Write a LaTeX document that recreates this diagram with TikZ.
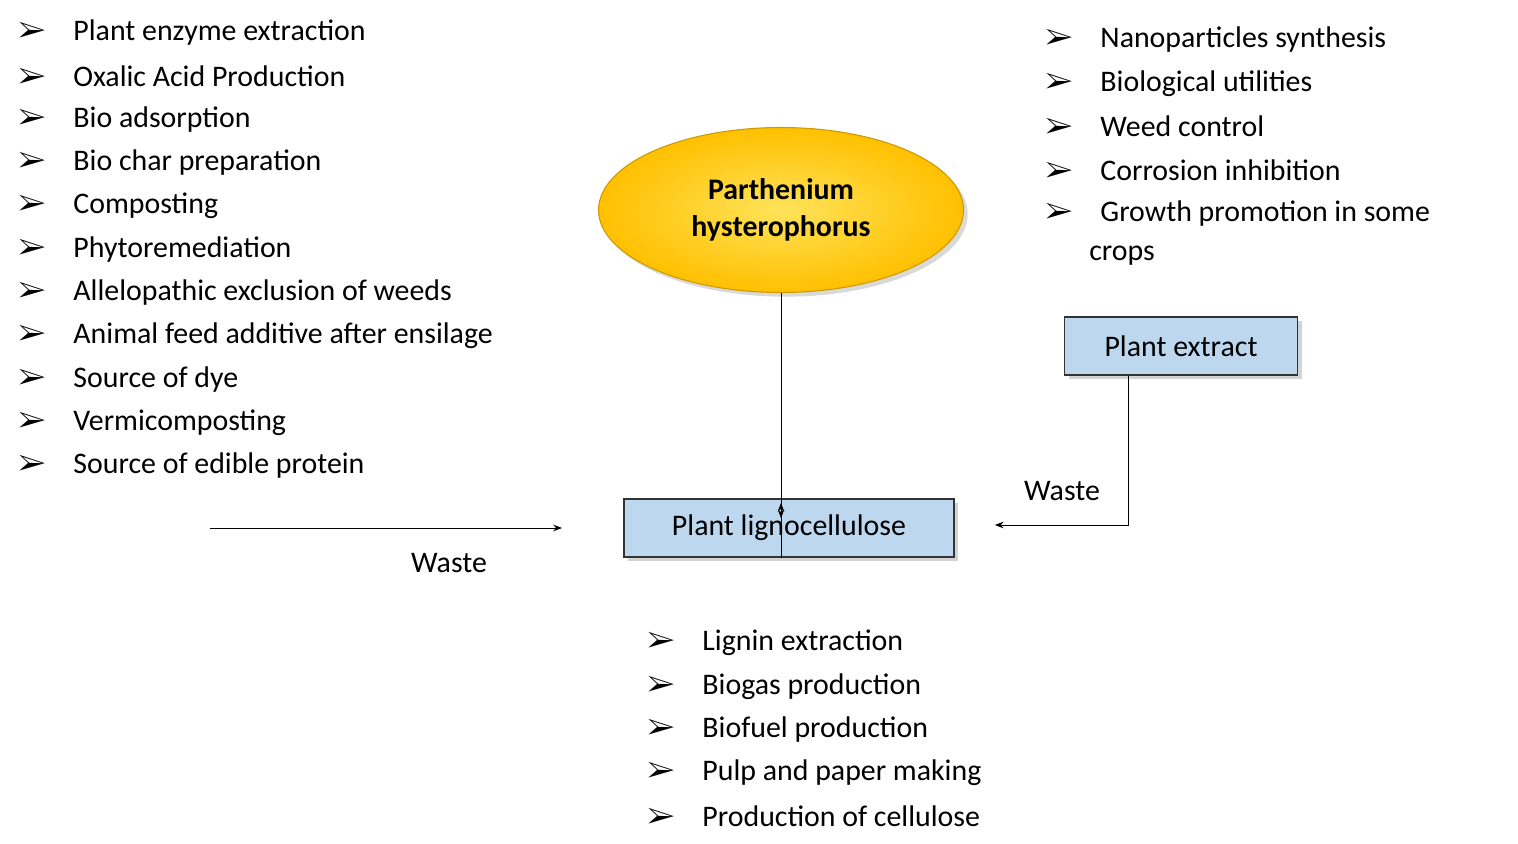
\documentclass[tikz,border=0pt]{standalone}
\usepackage{fontspec}
\setmainfont{Carlito}
\usepackage{pifont}
\usetikzlibrary{positioning, shadows, arrows.meta, shapes.geometric}
\definecolor{gold}{HTML}{FFC000}
\definecolor{goldlight}{HTML}{FFE35A}
\definecolor{boxblue}{HTML}{BDD7EE}
\tikzset{
  item/.style={anchor=west, inner sep=0pt, font=\fontsize{17}{20}\selectfont},
  box/.style={draw=black!80, line width=1pt, fill=boxblue, minimum height=1.16cm,
    font=\fontsize{17}{20}\selectfont, drop shadow={opacity=0.35}},
  conn/.style={-{Stealth[length=5pt]}, line width=0.5pt}
}
\newcommand{\mk}{\ding{226}}
\begin{document}
\begin{tikzpicture}[x=0.02cm, y=-0.02cm]
	\useasboundingbox (0,0) rectangle (1518,844);
	% left list
	\foreach \t [count=\i from 0] in {Plant enzyme extraction, Oxalic Acid Production, Bio adsorption, Bio char preparation, Composting, Phytoremediation, Allelopathic exclusion of weeds, Animal feed additive after ensilage, Source of dye, Vermicomposting, Source of edible protein}
	\node[item] (l\i) at (18,33+\i*43.3) {\mk\hspace{0.55cm}\t};
	% right list
	\foreach \t [count=\i from 0] in {Nanoparticles synthesis, Biological utilities, Weed control, Corrosion inhibition, Growth promotion in some}
	\node[item] (r\i) at (1045,40+\i*43.3) {\mk\hspace{0.55cm}\t};
	\node[item] (r5) at (1089,256) {crops};
	% bottom list
	\foreach \t [count=\i from 0] in {Lignin extraction, Biogas production, Biofuel production, Pulp and paper making, Production of cellulose}
	\node[item] (b\i) at (647,643+\i*43.3) {\mk\hspace{0.55cm}\t};
	% main shapes
	\node[ellipse, minimum width=7.3cm, minimum height=3.3cm, inner sep=0pt,
	  draw=gold!80!black, line width=0.6pt, inner color=goldlight, outer color=gold,
	  drop shadow={opacity=0.3}, align=center,
	  font=\fontsize{17}{21}\selectfont\bfseries] (ph) at (781,210) {Parthenium\\hysterophorus};
	\node[box, minimum width=6.6cm] (lig) at (789,528) {Plant lignocellulose};
	\node[box, minimum width=4.66cm] (ext) at (1181,346) {Plant extract};
	\coordinate (src) at (210,528);
	\coordinate (lin) at (562,528);
	\coordinate (turn) at (1128,525);
	% connectors
	\draw[conn] (ph.south) -- ([yshift=-0.4cm]ph.south |- lig.north);
	\draw[conn] (src) -- (lin);
	\draw[conn] (ext.south -| turn) -- (turn) -- ([xshift=0.8cm]lig.east |- turn);
	\draw[conn] (lig.south -| ph.south) -- ++(0,-55);
	\node[font=\fontsize{17}{20}\selectfont] (w1) at (449,563) {Waste};
	\node[font=\fontsize{17}{20}\selectfont] (w2) at (1062,491) {Waste};
\end{tikzpicture}
\end{document}
